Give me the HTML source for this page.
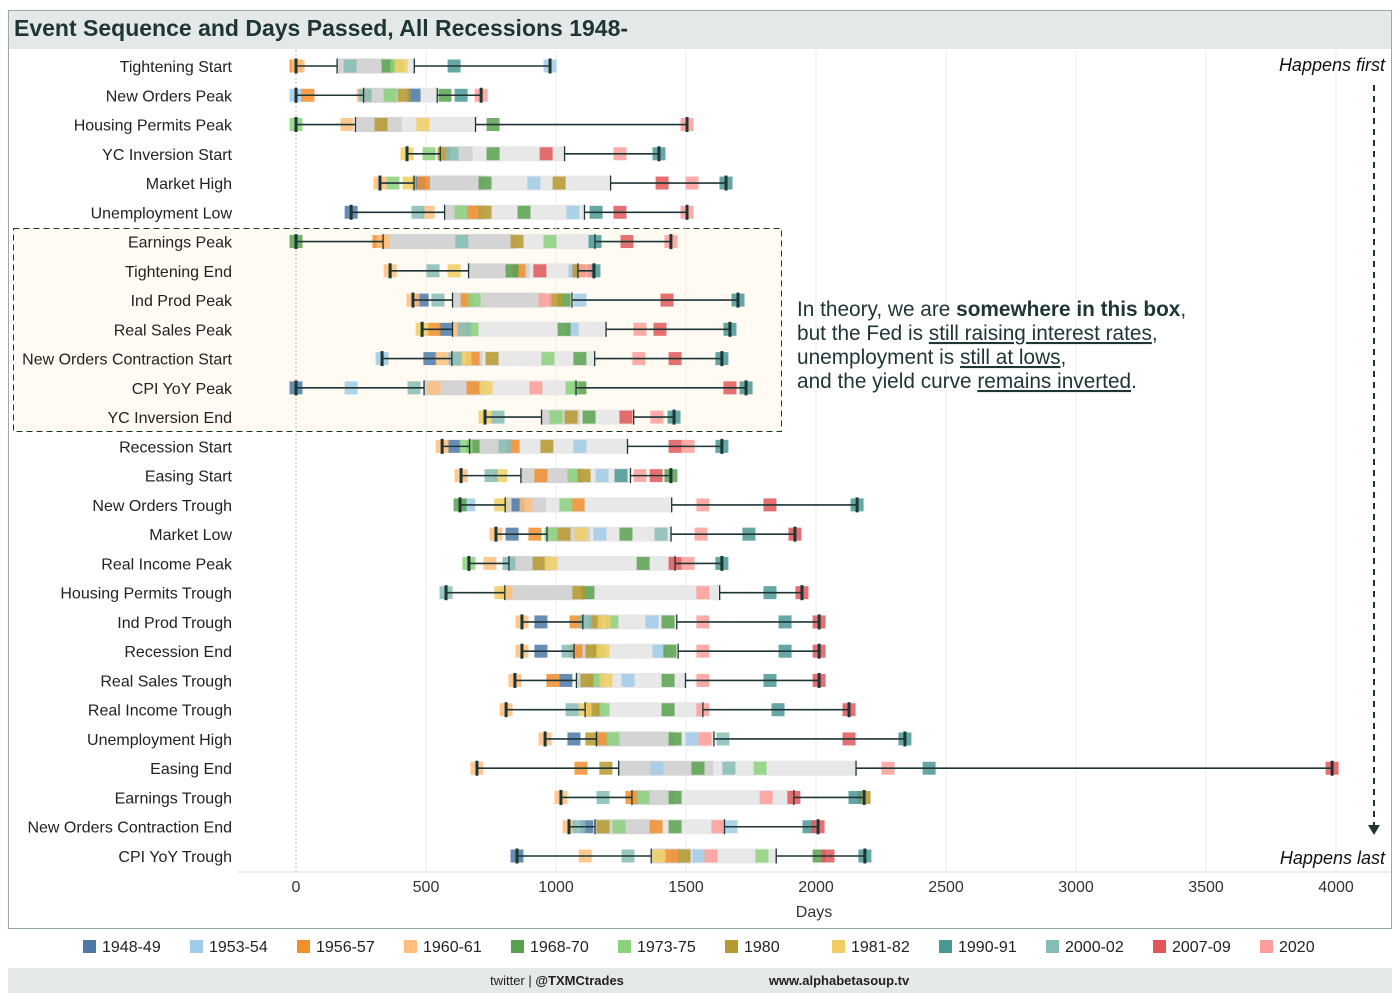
<!DOCTYPE html>
<html><head><meta charset="utf-8">
<style>
body{margin:0;background:#fff;font-family:"Liberation Sans",sans-serif;}
svg text{font-family:"Liberation Sans",sans-serif;}
</style></head>
<body>
<svg id="c" width="1400" height="1000" xmlns="http://www.w3.org/2000/svg">
<rect x="8.5" y="10.5" width="1383" height="918" fill="#fff" stroke="#9aa"/>
<rect x="9" y="11" width="1382" height="38" fill="#e5e8e8"/>
<text x="14" y="36" font-size="23" font-weight="bold" fill="#1e3535">Event Sequence and Days Passed, All Recessions 1948-</text>
<rect x="13.5" y="228.5" width="768" height="203" fill="#fffaf2" stroke="#1e3535" stroke-dasharray="6,4"/>
<g id="grid"></g>
<g id="rows"></g>
<g id="axis"></g>
<text x="814" y="917" font-size="16" text-anchor="middle" fill="#333">Days</text>
<text x="1385" y="71" font-size="18" font-style="italic" text-anchor="end" fill="#111">Happens first</text>
<text x="1385" y="864" font-size="18" font-style="italic" text-anchor="end" fill="#111">Happens last</text>
<line x1="1374" y1="85" x2="1374" y2="826" stroke="#1e3535" stroke-width="2" stroke-dasharray="6,5"/>
<polygon points="1368,825 1380,825 1374,835" fill="#1e3535"/>
<g font-size="20.8" fill="#1e3535">
<text x="797" y="316">In theory, we are <tspan font-weight="bold">somewhere in this box</tspan>,</text>
<text x="797" y="340">but the Fed is <tspan text-decoration="underline">still raising interest rates</tspan>,</text>
<text x="797" y="364">unemployment is <tspan text-decoration="underline">still at lows</tspan>,</text>
<text x="797" y="388">and the yield curve <tspan text-decoration="underline">remains inverted</tspan>.</text>
</g>
<g id="legend"></g>
<rect x="8" y="968" width="1384" height="25" fill="#e5e8e8"/>
<text x="557" y="985" font-size="13" text-anchor="middle" fill="#222">twitter | <tspan font-weight="bold">@TXMCtrades</tspan></text>
<text x="839" y="985" font-size="13" font-weight="bold" text-anchor="middle" fill="#222">www.alphabetasoup.tv</text>
</svg>
<script>
const recessions=["1948-49","1953-54","1956-57","1960-61","1968-70","1973-75","1980","1981-82","1990-91","2000-02","2007-09","2020"];
const colors=["#4e79a7","#a0cbe8","#f28e2b","#ffbe7d","#59a14f","#8cd17d","#b6992d","#f1ce63","#499894","#86bcb6","#e15759","#ff9d9a"];
const events=["Tightening Start","New Orders Peak","Housing Permits Peak","YC Inversion Start","Market High","Unemployment Low","Earnings Peak","Tightening End","Ind Prod Peak","Real Sales Peak","New Orders Contraction Start","CPI YoY Peak","YC Inversion End","Recession Start","Easing Start","New Orders Trough","Market Low","Real Income Peak","Housing Permits Trough","Ind Prod Trough","Recession End","Real Sales Trough","Real Income Trough","Unemployment High","Easing End","Earnings Trough","New Orders Contraction End","CPI YoY Trough"];
const xTicks=[0,500,1000,1500,2000,2500,3000,3500,4000];
// days per event, indexed by recession (null = missing)
const days=[
[null,977,0,8,354,388,null,404,608,208,null,null],
[454,0,46,258,573,362,415,null,635,266,null,712],
[null,null,null,196,758,0,327,488,null,null,null,1504],
[null,null,null,null,758,512,569,427,1396,600,962,1246],
[473,915,490,323,727,373,1012,435,1654,null,1408,1523],
[212,1065,681,508,877,635,727,null,1154,469,1246,1504],
[null,null,319,335,0,977,850,null,1150,638,1273,1442],
[null,1073,858,362,831,null,1088,608,1146,527,938,1112],
[485,1092,658,450,1031,685,1000,null,1700,546,1427,958],
[577,1062,531,627,1031,677,null,485,1669,646,1400,1323],
[515,331,681,562,1092,969,754,650,1638,612,1458,1319],
[0,212,681,531,1092,1062,null,731,1731,454,1669,923],
[null,null,null,null,1127,1000,1058,727,1454,777,1269,1388],
[608,1092,835,562,681,654,965,null,1638,804,1458,1508],
[null,1177,942,635,1442,1069,1108,788,1250,750,1385,1323],
[854,665,1085,885,631,1038,null,788,2158,null,1823,1565],
[831,1169,919,769,1269,981,1031,1096,1742,1404,1919,1558],
[null,null,null,746,1335,665,935,981,1638,819,1458,1508],
[null,null,null,808,1123,null,1088,788,1823,577,1946,1565],
[942,1369,1077,869,1431,1215,1150,1185,1881,1112,2012,1565],
[942,1396,1077,869,1438,1165,1138,1180,1881,1046,2012,1565],
[1038,1277,988,842,1431,1150,1119,1192,1823,null,2012,1565],
[null,null,null,808,1431,1181,1142,1112,1854,1062,2127,1565],
[1069,1523,1173,958,1458,1219,1138,null,2342,1642,2127,1573],
[null,1388,1096,696,1546,1785,1192,null,2435,1665,3985,2277],
[null,null,1292,1019,1458,1335,2185,null,2150,1181,1915,1808],
[1119,1673,1385,1050,1458,1242,1181,null,1973,1088,2008,1623],
[850,1550,1442,1112,2012,1792,1492,1396,2188,1277,2046,1596]
];
const NS="http://www.w3.org/2000/svg";
const X0=296,X1=1336,Y0=66,Y1=856,PB=872;
const xs=d=>X0+(X1-X0)*d/4000;
const ys=i=>Y0+(Y1-Y0)*i/(events.length-1);
function mk(tag,attrs,parent){const e=document.createElementNS(NS,tag);for(const k in attrs)e.setAttribute(k,attrs[k]);parent.appendChild(e);return e;}
function q(s,p){const h=(s.length-1)*p,l=Math.floor(h);return s[l]+(s[Math.min(l+1,s.length-1)]-s[l])*(h-l);}
const grid=document.getElementById('grid'),axis=document.getElementById('axis'),rows=document.getElementById('rows');
xTicks.forEach(t=>{
  const g=mk('line',{x1:xs(t),x2:xs(t),y1:50,y2:PB,stroke:t===0?'#bbb':'#eee','stroke-dasharray':t===0?'2,2':'none','stroke-width':1},grid);
  
  
  const tx=mk('text',{x:xs(t),y:892,'font-size':16,'text-anchor':'middle',fill:'#333'},axis);
  tx.textContent=t;
  
  
});
const bl=mk('line',{x1:237,x2:1390,y1:PB,y2:PB,stroke:'#ddd'},axis);


events.forEach((ev,i)=>{
  const y=ys(i);
  const g=mk('g',{},rows);
  
  
  const lb=mk('text',{x:232,y:y+6,'font-size':16,'text-anchor':'end',fill:'#222'},g);
  lb.textContent=ev;
  
  
  const vals=days[i].filter(v=>v!==null).sort((a,b)=>a-b);
  const mn=vals[0],mx=vals[vals.length-1],q1=q(vals,.25),md=q(vals,.5),q3=q(vals,.75);
  const b1=mk('rect',{x:xs(q1),y:y-7.5,width:xs(md)-xs(q1),height:15,fill:'#d4d4d4'},g);
  
  
  const b2=mk('rect',{x:xs(md),y:y-7.5,width:xs(q3)-xs(md),height:15,fill:'#e8e8e8'},g);
  
  
  days[i].forEach((v,r)=>{
    if(v===null)return;
    const s=mk('rect',{x:xs(v)-6.5,y:y-6.5,width:13,height:13,fill:colors[r],opacity:0.85},g);
    
    
  });
  const st={stroke:'#1e3535','stroke-width':1.6};
  const w1=mk('line',Object.assign({x1:xs(mn),x2:xs(q1),y1:y,y2:y},st),g);
  
  
  const w2=mk('line',Object.assign({x1:xs(q3),x2:xs(mx),y1:y,y2:y},st),g);
  
  
  [[q1,1.3],[q3,1.3],[mn,3],[mx,3]].forEach(([v,w])=>{
    const t=mk('line',{x1:xs(v),x2:xs(v),y1:y-7.5,y2:y+7.5,stroke:'#1e3535','stroke-width':w},g);
    
    
  });
});
const lg=document.getElementById('legend');
recessions.forEach((r,i)=>{
  const x=83+i*107;
  const g=mk('g',{},lg);
  
  
  mk('rect',{x:x,y:940,width:13,height:13,fill:colors[i]},g);
  const t=mk('text',{x:x+19,y:952,'font-size':16,fill:'#222'},g);
  t.textContent=r;
});
</script>
</body></html>
